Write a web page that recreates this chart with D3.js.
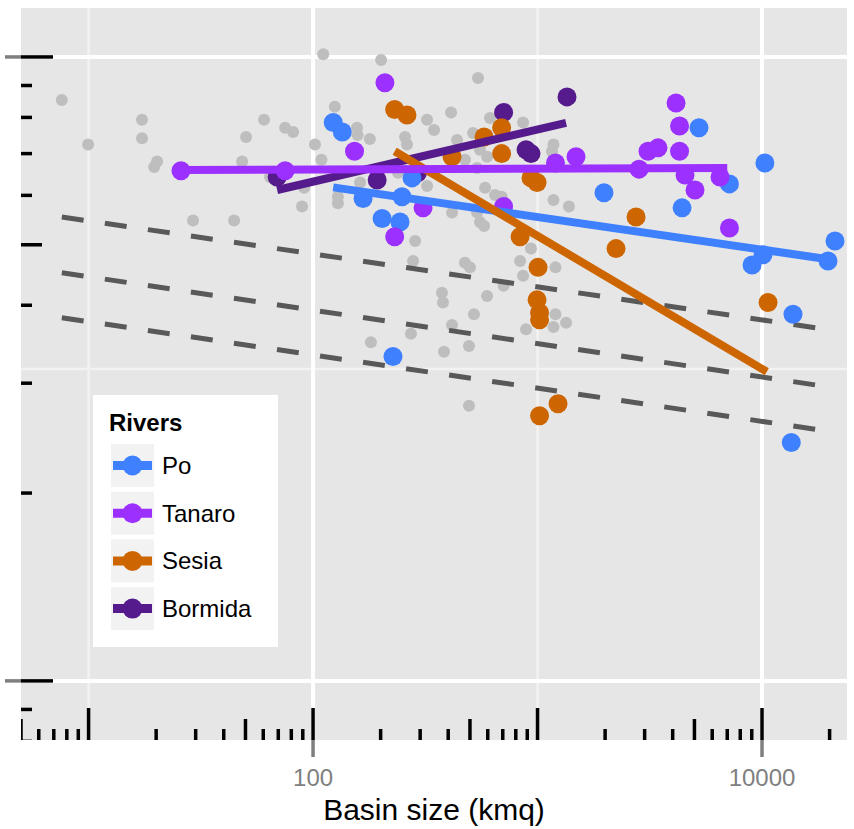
<!DOCTYPE html>
<html>
<head>
<meta charset="utf-8">
<script src="https://cdn.jsdelivr.net/npm/d3@7"></script>
<style>
body { margin: 0; background: #ffffff; }
svg { display: block; font-family: "Liberation Sans", Arial, Helvetica, sans-serif; }
</style>
</head>
<body>
<svg id="chart" width="854" height="829"></svg>
<script>
// Rivers: basin size vs value (log-log)

var rivers = ["Po", "Tanaro", "Sesia", "Bormida"];
var riverColors = ["#3f80ff", "#9b30ff", "#cd6600", "#551a8b"];
var drawOrder = ["Bormida", "Po", "Sesia", "Tanaro"];

// other stations (grey)
var otherArea = [7.6, 9.95, 17.3, 17.3, 20.2, 19.6, 29.2, 44.5, 50.3, 60.5, 75.1, 81.5, 48.3, 64.3, 89.3, 91.2,
	111, 201, 543, 125, 102, 157, 158, 179, 257, 262, 322, 346, 412, 614, 862, 516, 554, 438, 1178, 1160,
	109, 129, 129, 162, 239, 322, 475, 538, 596, 584, 647, 692, 1178, 1380, 416, 538, 554, 578, 285, 279,
	475, 500, 836, 935, 1202, 862, 706, 375, 379, 596, 521, 416, 273, 181, 383, 495, 889, 1178, 1202, 1340, 495];
var otherValue = [8.53, 7.24, 7.93, 7.41, 6.80, 6.66, 5.47, 5.47, 7.44, 7.93, 7.70, 7.58, 6.80, 6.42, 5.76, 6.17,
	10.1, 9.89, 9.25, 8.32, 7.24, 7.70, 7.50, 7.39, 7.44, 7.24, 7.93, 7.64, 8.15, 7.98, 7.85, 7.55, 7.10, 7.36, 7.24, 7.06,
	6.84, 5.97, 5.83, 6.29, 6.52, 6.21, 6.84, 6.64, 6.92, 6.17, 6.01, 5.97, 5.90, 5.76, 5.63, 5.63, 5.44, 5.36, 5.07, 4.71,
	4.68, 4.60, 4.71, 4.93, 4.60, 4.46, 4.30, 4.19, 4.04, 4.14, 3.87, 3.72, 3.60, 3.49, 3.37, 3.44, 3.66, 3.69, 3.87, 3.75, 2.76];

var poArea = [123, 135, 167, 203, 244, 249, 276, 227, 1977, 4404, 5240, 7160, 9030, 10100, 10300, 13740, 13500, 19680, 21140];
var poValue = [7.85, 7.58, 5.93, 5.51, 5.44, 5.97, 6.40, 3.31, 6.06, 5.73, 7.70, 6.26, 4.64, 4.82, 6.76, 3.87, 2.41, 4.71, 5.07];

var tanaroArea = [25.8, 75.1, 153, 209, 231, 309, 706, 1202, 1484, 2833, 3106, 3441, 4140, 4292, 4292, 4540, 5030, 6500, 7160];
var tanaroValue = [6.57, 6.57, 7.06, 9.09, 5.15, 5.73, 5.76, 6.76, 6.92, 6.61, 7.06, 7.15, 8.44, 7.75, 7.06, 6.47, 6.12, 6.42, 5.32];

var sesiaArea = [231, 262, 416, 578, 692, 692, 935, 995, 836, 1005, 995, 1021, 1021, 1234, 1021, 2237, 2747, 10640];
var sesiaValue = [8.24, 8.07, 6.92, 7.44, 7.70, 7.00, 6.40, 6.29, 5.15, 4.60, 4.08, 3.89, 3.79, 2.78, 2.66, 4.93, 5.54, 4.04];

var bormidaArea = [69.2, 193, 292, 706, 889, 935, 1353];
var bormidaValue = [6.42, 6.35, 6.52, 8.15, 7.10, 7.00, 8.63];

// fitted lines per river (same order as rivers)
var fitFromArea = [123, 25.8, 231, 69.2];
var fitToArea = [19700, 7000, 10500, 1340];
var fitFromValue = [6.18, 6.59, 7.06, 6.12];
var fitToValue = [4.74, 6.64, 3.13, 7.84];

// dashed reference lines
var refArea = [7.6, 17400];
var refFromValue = [5.54, 4.51, 3.82];
var refToValue = [3.68, 2.98, 2.53];

// axes
var xMajor = [100, 10000];
var xMinor = [10, 1000];
var xLabels = ["100", "10000"];
var yMajor = [1, 10];
var yMinor = [3.1623];
var xTitle = "Basin size (kmq)";
var legendTitle = "Rivers";


var svg = d3.select("#chart");
var panel = {left: 21, top: 8, right: 847, bottom: 740};

var x = d3.scaleLog().domain([5.0, 23910]).range([panel.left, panel.right]);
var y = d3.scaleLog().domain([0.804, 11.98]).range([panel.bottom, panel.top]);

svg.append("rect").attr("width", 854).attr("height", 829).style("fill", "#ffffff");

svg.append("clipPath").attr("id", "clip")
	.append("rect")
	.attr("x", panel.left).attr("y", panel.top)
	.attr("width", panel.right - panel.left).attr("height", panel.bottom - panel.top);

// panel background
svg.append("rect")
	.attr("x", panel.left).attr("y", panel.top)
	.attr("width", panel.right - panel.left).attr("height", panel.bottom - panel.top)
	.style("fill", "#e6e6e6");

var plot = svg.append("g").attr("clip-path", "url(#clip)");

// grid
function gridLines(values, isX, color, width){
	plot.selectAll(null)
		.data(values)
		.enter()
		.append("line")
		.attr("x1", d => isX ? x(d) : panel.left)
		.attr("x2", d => isX ? x(d) : panel.right)
		.attr("y1", d => isX ? panel.top : y(d))
		.attr("y2", d => isX ? panel.bottom : y(d))
		.style("stroke", color)
		.style("stroke-width", width);
}
gridLines(xMinor, true, "#f2f2f2", 2.5);
gridLines(yMinor, false, "#f2f2f2", 2.5);
gridLines(xMajor, true, "#ffffff", 4);
gridLines(yMajor, false, "#ffffff", 4);

// grey points
var others = otherArea.map((a, i) => ({area: a, value: otherValue[i]}));
plot.selectAll(null)
	.data(others)
	.enter()
	.append("circle")
	.attr("cx", d => x(d.area))
	.attr("cy", d => y(d.value))
	.attr("r", 6)
	.style("fill", "#bebebe");

// dashed reference lines
plot.selectAll(null)
	.data(refFromValue)
	.enter()
	.append("line")
	.attr("x1", x(refArea[0]))
	.attr("x2", x(refArea[1]))
	.attr("y1", d => y(d))
	.attr("y2", (d, i) => y(refToValue[i]))
	.style("stroke", "#595959")
	.style("stroke-width", 5)
	.style("stroke-dasharray", "22,21.5");

// river points
var riverArea = {Po: poArea, Tanaro: tanaroArea, Sesia: sesiaArea, Bormida: bormidaArea};
var riverValue = {Po: poValue, Tanaro: tanaroValue, Sesia: sesiaValue, Bormida: bormidaValue};
var color = d3.scaleOrdinal().domain(rivers).range(riverColors);

var points = [];
drawOrder.forEach(function(r){
	riverArea[r].forEach(function(a, i){
		points.push({river: r, area: a, value: riverValue[r][i]});
	});
});

plot.selectAll(null)
	.data(points)
	.enter()
	.append("circle")
	.attr("cx", d => x(d.area))
	.attr("cy", d => y(d.value))
	.attr("r", 9.5)
	.style("fill", d => color(d.river));

// fitted lines
var fits = drawOrder.map(function(r){
	var i = rivers.indexOf(r);
	return {river: r, a0: fitFromArea[i], a1: fitToArea[i], v0: fitFromValue[i], v1: fitToValue[i]};
});
plot.selectAll(null)
	.data(fits)
	.enter()
	.append("line")
	.attr("x1", d => x(d.a0))
	.attr("x2", d => x(d.a1))
	.attr("y1", d => y(d.v0))
	.attr("y2", d => y(d.v1))
	.style("stroke", d => color(d.river))
	.style("stroke-width", 8);

// log ticks (annotation style) on bottom and left
var logTicks = [];
for(var p = -1; p <= 4; p++){
	for(var m = 1; m <= 9; m++){
		var len = (m == 1) ? 32 : (m == 5 ? 21 : 11);
		logTicks.push({v: m * Math.pow(10, p), len: len});
	}
}
var xTicks = logTicks.filter(d => d.v >= 5 && d.v <= 23910);
var yTicks = logTicks.filter(d => d.v >= 0.8 && d.v <= 11.98);

plot.selectAll(null)
	.data(xTicks)
	.enter()
	.append("line")
	.attr("x1", d => x(d.v)).attr("x2", d => x(d.v))
	.attr("y1", panel.bottom).attr("y2", d => panel.bottom - d.len)
	.style("stroke", "#000000")
	.style("stroke-width", 3.5);

plot.selectAll(null)
	.data(yTicks)
	.enter()
	.append("line")
	.attr("y1", d => y(d.v)).attr("y2", d => y(d.v))
	.attr("x1", panel.left).attr("x2", d => panel.left + d.len)
	.style("stroke", "#000000")
	.style("stroke-width", 3.5);

// axis ticks outside the panel
svg.selectAll(null)
	.data(xMajor)
	.enter()
	.append("line")
	.attr("x1", d => x(d)).attr("x2", d => x(d))
	.attr("y1", panel.bottom).attr("y2", panel.bottom + 17)
	.style("stroke", "#7f7f7f")
	.style("stroke-width", 3.5);

svg.selectAll(null)
	.data(yMajor)
	.enter()
	.append("line")
	.attr("y1", d => y(d)).attr("y2", d => y(d))
	.attr("x1", panel.left - 16).attr("x2", panel.left)
	.style("stroke", "#7f7f7f")
	.style("stroke-width", 3.5);

svg.selectAll(null)
	.data(xMajor)
	.enter()
	.append("text")
	.attr("x", d => x(d))
	.attr("y", 786)
	.attr("text-anchor", "middle")
	.style("font-size", "24px")
	.style("fill", "#7f7f7f")
	.text((d, i) => xLabels[i]);

svg.append("text")
	.attr("x", (panel.left + panel.right) / 2)
	.attr("y", 820)
	.attr("text-anchor", "middle")
	.style("font-size", "30px")
	.style("fill", "#000000")
	.text(xTitle);

// legend
var legend = svg.append("g").attr("transform", "translate(93,395)");
legend.append("rect")
	.attr("width", 185).attr("height", 252)
	.style("fill", "#ffffff");

legend.append("text")
	.attr("x", 16).attr("y", 36)
	.style("font-size", "24px")
	.style("font-weight", "bold")
	.text(legendTitle);

var keys = legend.selectAll(null)
	.data(rivers)
	.enter()
	.append("g")
	.attr("transform", (d, i) => "translate(18," + (49 + i * 47.7) + ")");

keys.append("rect")
	.attr("width", 43).attr("height", 43)
	.style("fill", "#f2f2f2");
keys.append("line")
	.attr("x1", 2).attr("x2", 41)
	.attr("y1", 21.5).attr("y2", 21.5)
	.style("stroke", d => color(d))
	.style("stroke-width", 9);
keys.append("circle")
	.attr("cx", 21.5).attr("cy", 21.5).attr("r", 10)
	.style("fill", d => color(d));
keys.append("text")
	.attr("x", 51).attr("y", 30)
	.style("font-size", "24px")
	.text(d => d);
</script>
</body>
</html>
